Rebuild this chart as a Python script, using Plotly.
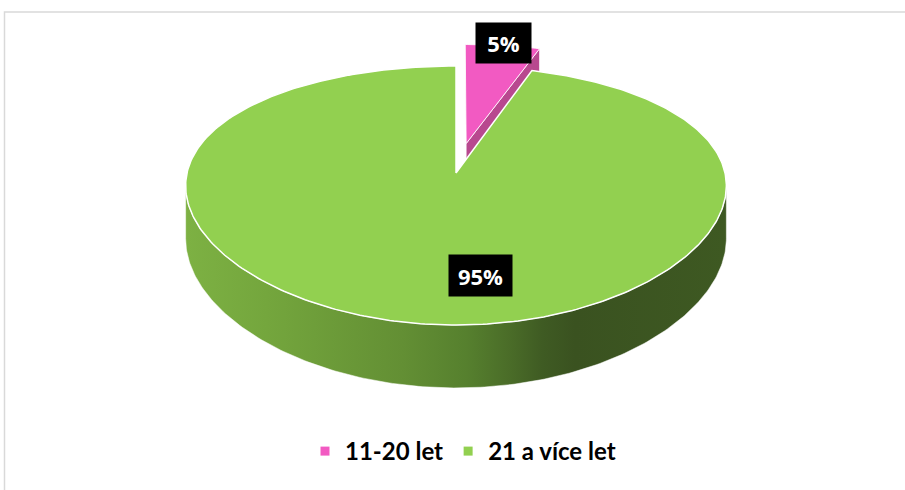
import numpy as np
import plotly.graph_objects as go

# ---- data ----
labels = ["11-20 let", "21 a více let"]
values = [5, 95]
top_colors = ["#f25ac2", "#92d050"]
cut_colors = ["#b8488f", "#4a6d28"]
explode = [0.247, 0.0]

# ---- 3D pie projection (pixel space, y grows downward) ----
CX, CY = 456.0, 173.0        # projected pie centre
RX, RY = 269.0, 125.6        # radii of the top face
DEPTH = 52.0                 # thickness of the pie
PERSP_Y, PERSP_X = 5.76, 10.0


def proj(X, Z, h=0.0):
    X = np.asarray(X, dtype=float)
    Z = np.asarray(Z, dtype=float)
    fy = PERSP_Y / (PERSP_Y + Z)
    fx = PERSP_X / (PERSP_X + Z)
    return CX + RX * X * fx, CY - RY * Z * fy + DEPTH * h * fy


total = float(sum(values))
fracs = [v / total for v in values]
starts = np.cumsum([0.0] + fracs[:-1]) * 2 * np.pi
ends = np.cumsum(fracs) * 2 * np.pi

fig = go.Figure()
slices = []
for i in range(len(values)):
    mid = (starts[i] + ends[i]) / 2
    ox, oz = explode[i] * np.sin(mid), explode[i] * np.cos(mid)
    slices.append((starts[i], ends[i], ox, oz))

# slice 0 (exploded, at the back): visible cut face, then its top face
a0, a1, ox, oz = slices[0]
ax_t, ay_t = proj(ox, oz, 0)
ax_b, ay_b = proj(ox, oz, 1)
rx_t, ry_t = proj(ox + np.sin(a1), oz + np.cos(a1), 0)
rx_b, ry_b = proj(ox + np.sin(a1), oz + np.cos(a1), 1)
fig.add_trace(go.Scatter(
    x=[ax_t, rx_t, rx_b, ax_b, ax_t], y=[ay_t, ry_t, ry_b, ay_b, ay_t],
    fill="toself", fillcolor=cut_colors[0], mode="lines",
    line=dict(color="rgba(255,255,255,0.7)", width=1),
    showlegend=False, hoverinfo="skip"))
th = np.linspace(a0, a1, 40)
px_, py_ = proj(ox + np.sin(th), oz + np.cos(th), 0)
fig.add_trace(go.Scatter(
    x=np.concatenate([[ax_t], px_, [ax_t]]), y=np.concatenate([[ay_t], py_, [ay_t]]),
    fill="toself", fillcolor=top_colors[0], mode="lines",
    line=dict(color="rgba(255,255,255,0.85)", width=1),
    showlegend=False, hoverinfo="skip"))

# slice 1: front wall with shading, then top face
b0, b1, ox, oz = slices[1]
t_star = np.arccos(-1.0 / PERSP_X)
th = np.linspace(t_star, 2 * np.pi - t_star, 200)
wx_t, wy_t = proj(ox + np.sin(th), oz + np.cos(th), 0)
wx_b, wy_b = proj(ox + np.sin(th), oz + np.cos(th), 1)
fig.add_trace(go.Scatter(
    x=np.concatenate([wx_t, wx_b[::-1], wx_t[:1]]),
    y=np.concatenate([wy_t, wy_b[::-1], wy_t[:1]]),
    fill="toself", mode="lines",
    fillgradient=dict(type="horizontal", colorscale=[
        [0.0, "#7db143"], [0.15, "#74a63d"], [0.40, "#638f34"],
        [0.52, "#56802e"], [0.60, "#4a6c28"], [0.66, "#3f5b23"],
        [0.72, "#3a5220"], [1.0, "#3e5922"]]),
    line=dict(color="rgba(255,255,255,0.5)", width=1),
    showlegend=False, hoverinfo="skip"))
th = np.linspace(b0, b1, 400)
ax_t, ay_t = proj(ox, oz, 0)
px_, py_ = proj(ox + np.sin(th), oz + np.cos(th), 0)
fig.add_trace(go.Scatter(
    x=np.concatenate([[ax_t], px_, [ax_t]]), y=np.concatenate([[ay_t], py_, [ay_t]]),
    fill="toself", fillcolor=top_colors[1], mode="lines",
    line=dict(color="white", width=1.5),
    showlegend=False, hoverinfo="skip"))

# legend entries
for lab, col in zip(labels, top_colors):
    fig.add_trace(go.Scatter(
        x=[None], y=[None], mode="markers", name=lab,
        marker=dict(symbol="square", size=9, color=col)))

# percentage labels
label_pos = [(503.5, 43), (480.5, 275.5)]
label_box = [(51, 36), (59, 37)]
for v, (lx, ly), (bw, bh) in zip(values, label_pos, label_box):
    fig.add_annotation(
        x=lx, y=ly, xref="x", yref="y", showarrow=False,
        text=f"{round(100 * v / total)}%",
        font=dict(family="Open Sans", size=22, color="white", weight="bold"),
        bgcolor="black", width=bw, height=bh, borderpad=2,
        xanchor="center", yanchor="middle")

# chart frame
fig.add_shape(type="rect", xref="paper", yref="paper",
              x0=4.5 / 905, y0=1 - 12 / 490, x1=1.05, y1=-0.05,
              line=dict(color="#d9d9d9", width=1.5), layer="below")

fig.update_layout(
    width=905, height=490,
    margin=dict(l=0, r=0, t=0, b=0),
    paper_bgcolor="white", plot_bgcolor="white",
    xaxis=dict(range=[0, 905], visible=False, fixedrange=True),
    yaxis=dict(range=[490, 0], visible=False, fixedrange=True),
    showlegend=True,
    legend=dict(orientation="h", x=305 / 905, y=1 - 429 / 490,
                xanchor="left", yanchor="top",
                font=dict(family="Lato", size=24, color="black", weight="bold"),
                bgcolor="rgba(0,0,0,0)", itemclick=False),
)

fig.write_html("out.html")
